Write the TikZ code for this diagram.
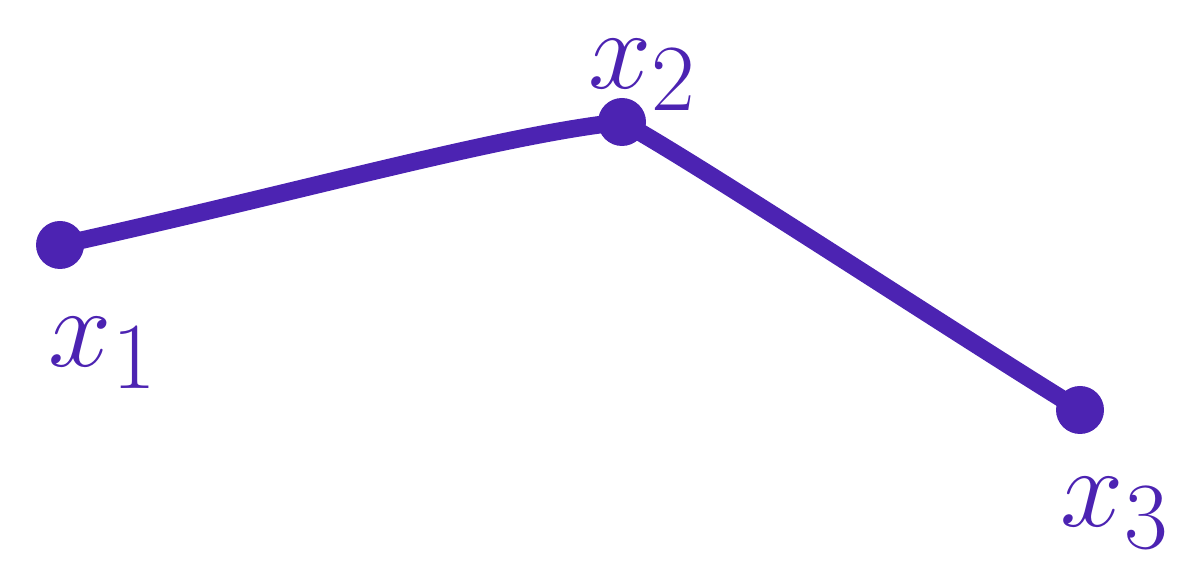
\documentclass[tikz,border=0pt]{standalone}
\usepackage{amsmath}
\usepackage{tikz}
\usetikzlibrary{positioning, calc}
\definecolor{penviolet}{RGB}{76, 35, 178}

\tikzset{
	dot/.style={circle, fill=penviolet, inner sep=0pt, minimum size=0.96cm},
	pen/.style={penviolet, line width=10pt, line cap=round},
	lab/.style={text=penviolet, font=\Huge, scale=2.6, anchor=base west, inner sep=0pt}
}

\begin{document}
\begin{tikzpicture}
				\useasboundingbox (0,0) rectangle (23.88,11.38);
				\node[dot] (p1) at (1.2,6.48) {};
				\node[dot] (p2) at (12.44,8.94) {};
				\node[dot] (p3) at (21.6,3.18) {};
				\draw[pen] (p1.center) .. controls (6.0,7.54) and (10.0,8.68) .. (p2.center);
				\draw[pen] (p2.center) .. controls (14.0,8.08) and (19.0,4.78) .. (p3.center);
				\node[lab] (l1) at (0.96,4.04) {$x_1$};
				\node[lab] (l2) at (11.75,9.6) {$x_2$};
				\node[lab] (l3) at (21.2,0.85) {$x_3$};
			\end{tikzpicture}
\end{document}
